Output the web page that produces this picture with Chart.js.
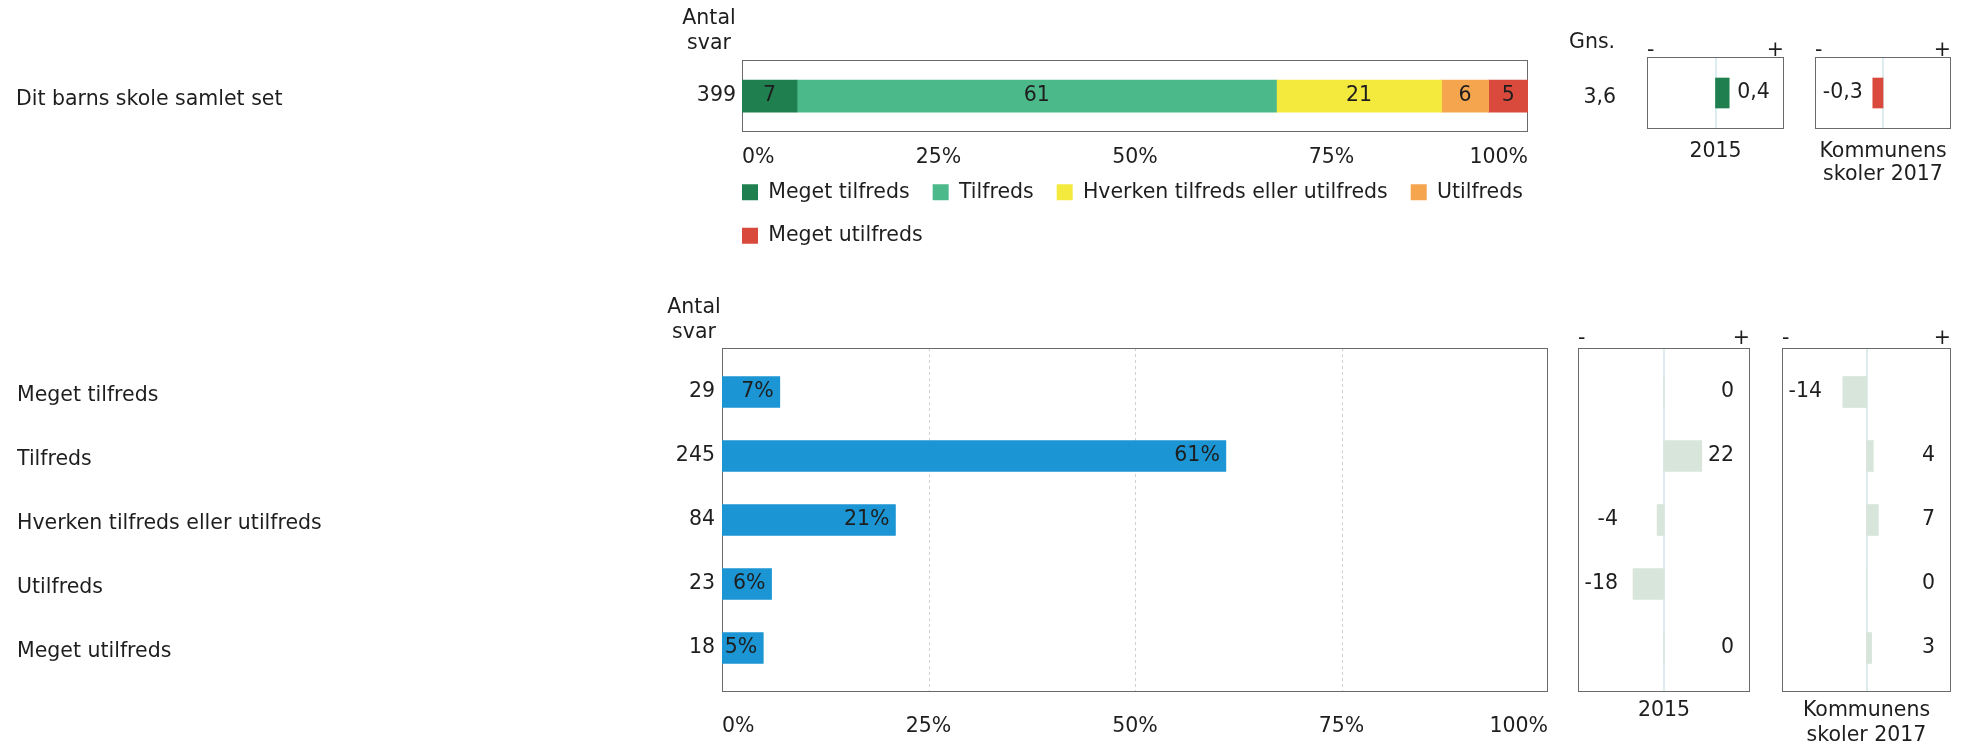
<!DOCTYPE html>
<html>
<head>
<meta charset="utf-8">
<script src="https://cdn.jsdelivr.net/npm/chart.js@4.4.1/dist/chart.umd.min.js"></script>
<style>
    html, body { margin: 0; padding: 0; background: #fff; }
    #page { position: relative; width: 1967px; height: 748px; overflow: hidden; font-family: "DejaVu Sans", sans-serif; color: #1e1e1e; }
    #page canvas { position: absolute; }
    .txt { position: absolute; font-size: 20.5px; line-height: 25px; white-space: nowrap; }
</style>
</head>
<body>
<div id="page">
    <canvas id="overallChart" width="1640" height="256" style="left:0;top:0"></canvas>
    <canvas id="overallDiff2015" width="153" height="190" style="left:1639px;top:0"></canvas>
    <canvas id="overallDiffMun" width="152" height="190" style="left:1807px;top:0"></canvas>
    <canvas id="answerChart" width="1574" height="440" style="left:0;top:300px"></canvas>
    <canvas id="answerDiff2015" width="188" height="448" style="left:1570px;top:300px"></canvas>
    <canvas id="answerDiffMun" width="185" height="448" style="left:1774px;top:300px"></canvas>
    <div class="txt" style="left:659px;top:5px;width:100px;text-align:center">Antal<br>svar</div>
    <div class="txt" style="left:644px;top:294px;width:100px;text-align:center">Antal<br>svar</div>
    <div class="txt" style="left:1569px;top:29px">Gns.</div>
    <div class="txt" id="avgValue" style="left:1536px;top:84px;width:80px;text-align:right"></div>
</div>
<script>
"use strict";
// data
const overallLabel = ['Dit barns skole samlet set'];
const overallCount = [399];
const overallAverage = 3.6;
const answerCategories = ['Meget tilfreds', 'Tilfreds', 'Hverken tilfreds eller utilfreds', 'Utilfreds', 'Meget utilfreds'];
const answerColors = ['#1f7f4f', '#4cb98a', '#f4ea3d', '#f6a54f', '#da4a3c'];
const sharePct = [7, 61, 21, 6, 5];
const answerCounts = [29, 245, 84, 23, 18];
const avgDiff2015 = [0.4];
const avgDiffMunicipality = [-0.3];
const pointDiff2015 = [0, 22, -4, -18, 0];
const pointDiffMunicipality = [-14, 4, 7, 0, 3];
const panelTitle2015 = ['2015'];
const panelTitleMunicipality = ['Kommunens', 'skoler 2017'];

const TEXT = '#1e1e1e';
const FONT_SIZE = 20.5;
const FONT = { family: 'DejaVu Sans', size: FONT_SIZE };
const CSS_FONT = FONT_SIZE + 'px "DejaVu Sans"';
Chart.defaults.font.family = FONT.family;
Chart.defaults.font.size = FONT_SIZE;
Chart.defaults.color = TEXT;

const comma = v => String(v).replace('.', ',');
document.getElementById('avgValue').textContent = comma(overallAverage);

// box round the plot area, plus optional vertical guide lines
function framePlugin(extY, lines, lineColor, lineWidth, lineDash) {
    return {
        id: 'frame',
        beforeDatasetsDraw(chart) {
            const { ctx, chartArea: a, scales: { x } } = chart;
            ctx.save();
            lines.forEach(v => {
                const px = Math.round(x.getPixelForValue(v)) + (lineWidth % 2 ? 0.5 : 0);
                ctx.beginPath();
                ctx.setLineDash(lineDash);
                ctx.strokeStyle = lineColor;
                ctx.lineWidth = lineWidth;
                ctx.moveTo(px, a.top - extY);
                ctx.lineTo(px, a.bottom + extY);
                ctx.stroke();
            });
            ctx.setLineDash([]);
            ctx.strokeStyle = '#6a6a6a';
            ctx.lineWidth = 1;
            const l = Math.round(a.left), t = Math.round(a.top - extY);
            ctx.strokeRect(l + 0.5, t + 0.5, Math.round(a.right) - l - 1, Math.round(a.bottom + extY) - t - 1);
            ctx.restore();
        }
    };
}

// numbers written on or beside the bars
function valueLabels(mode) {
    return {
        id: 'valueLabels',
        afterDatasetsDraw(chart) {
            const { ctx, chartArea: a } = chart;
            ctx.save();
            ctx.font = CSS_FONT;
            ctx.fillStyle = TEXT;
            ctx.textBaseline = 'middle';
            chart.data.datasets.forEach((ds, di) => {
                chart.getDatasetMeta(di).data.forEach((el, i) => {
                    const v = ds.data[i];
                    if (mode === 'center') {
                        ctx.textAlign = 'center';
                        ctx.fillText(String(v), (el.x + el.base) / 2, el.y);
                    } else if (mode === 'insideEnd') {
                        ctx.textAlign = 'right';
                        ctx.fillText(v + '%', el.x - 6, el.y);
                    } else if (mode === 'near') {
                        ctx.textAlign = v < 0 ? 'right' : 'left';
                        ctx.fillText(comma(v), v < 0 ? el.x - 10 : el.x + 8, el.y);
                    } else {
                        ctx.textAlign = 'right';
                        ctx.fillText(String(v), v < 0 ? a.left + 40 : a.right - 16, el.y);
                    }
                });
            });
            ctx.restore();
        }
    };
}

// answer counts left of the plot, and an optional row caption at the far left
function sideText(counts, captions, gap) {
    return {
        id: 'sideText',
        afterDraw(chart) {
            const { ctx, chartArea: a, scales: { y } } = chart;
            ctx.save();
            ctx.font = CSS_FONT;
            ctx.fillStyle = TEXT;
            ctx.textBaseline = 'middle';
            counts.forEach((c, i) => {
                const py = y.getPixelForValue(i);
                ctx.textAlign = 'right';
                ctx.fillText(String(c), a.left - gap, py);
                if (captions) {
                    ctx.textAlign = 'left';
                    ctx.fillText(captions[i], 16, py + 4);
                }
            });
            ctx.restore();
        }
    };
}

// top: stacked share bar with legend
new Chart(document.getElementById('overallChart'), {
    type: 'bar',
    data: {
        labels: overallLabel,
        datasets: answerCategories.map((name, i) => ({
            label: name,
            data: [sharePct[i]],
            backgroundColor: answerColors[i],
            barThickness: 32
        }))
    },
    options: {
        indexAxis: 'y',
        responsive: false,
        animation: false,
        layout: { padding: { left: 719, right: 0, top: 60, bottom: 0 } },
        scales: {
            x: {
                stacked: true, min: 0, max: 100,
                grid: { display: false }, border: { display: false },
                ticks: { stepSize: 25, align: 'inner', padding: 5, callback: v => v + '%' },
                afterFit: s => { s.height = 38; }
            },
            y: {
                stacked: true,
                grid: { display: false }, border: { display: false }, ticks: { display: false },
                afterFit: s => { s.width = 23; }
            },
            yRight: {
                axis: 'y', type: 'category', position: 'right', display: true,
                grid: { display: false }, border: { display: false }, ticks: { display: false },
                afterFit: s => { s.width = 1640 - 1528; }
            }
        },
        plugins: {
            legend: {
                position: 'bottom', align: 'start',
                // empty title with negative padding pulls the rows up under the axis labels
                title: { display: true, text: '', font: { size: 1, lineHeight: 1 }, padding: { top: -12.25, bottom: 0 } },
                labels: { boxWidth: 16, boxHeight: 16, padding: 23, color: TEXT, font: FONT }
            },
            tooltip: { enabled: false }
        }
    },
    plugins: [framePlugin(0, [], '#ccc', 1, []), valueLabels('center'), sideText(overallCount, overallLabel, 6)]
});

// small difference panels
function diffPanel(id, values, colors, range, thickness, titleLines, layout, labelMode) {
    const lh = layout.lineHeight;
    const padBottom = layout.height - layout.areaBottom - layout.titlePad - lh * titleLines.length;
    return new Chart(document.getElementById(id), {
        type: 'bar',
        data: {
            labels: values.map((v, i) => i),
            datasets: [{ data: values, backgroundColor: colors, barThickness: thickness }]
        },
        options: {
            indexAxis: 'y',
            responsive: false,
            animation: false,
            layout: { padding: { left: 8, right: 8, top: 0, bottom: padBottom } },
            scales: {
                x: {
                    position: 'top', min: -range, max: range,
                    grid: { display: false }, border: { display: false },
                    ticks: {
                        stepSize: range, align: 'inner', padding: layout.tickPad,
                        callback: v => (v === -range ? '-' : v === range ? '+' : '')
                    },
                    afterFit: s => { s.height = layout.areaTop; }
                },
                y: { display: false }
            },
            plugins: {
                legend: { display: false },
                tooltip: { enabled: false },
                title: {
                    display: true, position: 'bottom', text: titleLines, color: TEXT,
                    font: { family: FONT.family, size: FONT_SIZE, weight: 'normal', lineHeight: lh + 'px' },
                    padding: { top: layout.titlePad, bottom: 0 }
                }
            }
        },
        plugins: [framePlugin(layout.extY, [0], '#dcecef', 2, []), valueLabels(labelMode)]
    });
}

const topPanelLayout = { height: 190, areaTop: 57, areaBottom: 129, titlePad: 11.5, lineHeight: 23, tickPad: -14, extY: 0 };
const bottomPanelLayout = { height: 448, areaTop: 60, areaBottom: 380, titlePad: 18, lineHeight: 25, tickPad: 1, extY: 12 };
const diffColor = v => (v < 0 ? '#da4a3c' : '#1f7f4f');

diffPanel('overallDiff2015', avgDiff2015, avgDiff2015.map(diffColor), 2, 30, panelTitle2015, topPanelLayout, 'near');
diffPanel('overallDiffMun', avgDiffMunicipality, avgDiffMunicipality.map(diffColor), 2, 30, panelTitleMunicipality, topPanelLayout, 'near');
diffPanel('answerDiff2015', pointDiff2015, '#d7e5da', 50, 31, panelTitle2015, bottomPanelLayout, 'edge');
diffPanel('answerDiffMun', pointDiffMunicipality, '#d7e5da', 50, 31, panelTitleMunicipality, bottomPanelLayout, 'edge');

// bottom: share per answer
new Chart(document.getElementById('answerChart'), {
    type: 'bar',
    data: {
        labels: answerCategories,
        datasets: [{ data: sharePct, backgroundColor: '#1b95d3', barThickness: 31 }]
    },
    options: {
        indexAxis: 'y',
        responsive: false,
        animation: false,
        layout: { padding: { left: 17, right: 26, top: 60, bottom: 0 } },
        scales: {
            x: {
                min: 0, max: 100,
                grid: { display: false }, border: { display: false },
                ticks: { stepSize: 25, align: 'inner', padding: 26, callback: v => v + '%' },
                afterFit: s => { s.height = 60; }
            },
            y: {
                grid: { display: false }, border: { display: false },
                ticks: { crossAlign: 'far', labelOffset: 4, color: TEXT, font: FONT },
                afterFit: s => { s.width = 722 - 17; }
            }
        },
        plugins: {
            legend: { display: false },
            tooltip: { enabled: false }
        }
    },
    plugins: [framePlugin(12, [25, 50, 75], '#cfcfcf', 1, [3, 3]), valueLabels('insideEnd'), sideText(answerCounts, null, 7)]
});
</script>
</body>
</html>
